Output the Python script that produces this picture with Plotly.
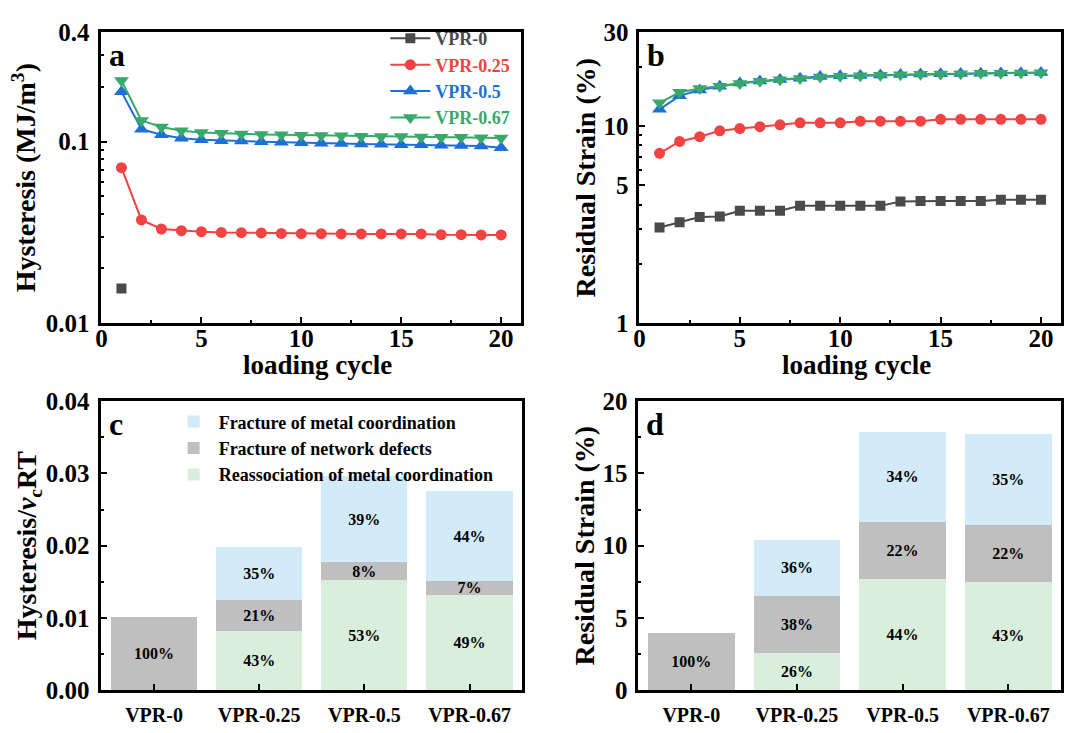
import plotly.graph_objects as go
from plotly.subplots import make_subplots

# ---------------- data ----------------
cycles = list(range(1, 21))
names = ["VPR-0", "VPR-0.25", "VPR-0.5", "VPR-0.67"]

hyst_cycles_vpr0 = [1]
hyst_vpr0 = [0.0155]
hyst_vpr025 = [0.0718, 0.0370, 0.0330, 0.0323, 0.0319, 0.0316, 0.0315, 0.0314, 0.0312, 0.0311,
               0.0311, 0.0310, 0.0310, 0.0310, 0.0310, 0.0310, 0.0307, 0.0307, 0.0306, 0.0306]
hyst_vpr05 = [0.188, 0.117, 0.109, 0.1043, 0.1022, 0.1010, 0.1006, 0.0998, 0.0990, 0.0985,
              0.0980, 0.0975, 0.0970, 0.0967, 0.0962, 0.0960, 0.0955, 0.0950, 0.0945, 0.0925]
hyst_vpr067 = [0.217, 0.1306, 0.1204, 0.1147, 0.1123, 0.1110, 0.1100, 0.1095, 0.1090, 0.1085,
               0.1080, 0.1075, 0.1070, 0.1068, 0.1065, 0.1060, 0.1058, 0.1055, 0.1050, 0.1045]

res_vpr0 = [3.06, 3.25, 3.46, 3.48, 3.72, 3.72, 3.72, 3.94, 3.94, 3.94,
            3.94, 3.94, 4.15, 4.17, 4.17, 4.17, 4.17, 4.23, 4.23, 4.23]
res_vpr025 = [7.28, 8.37, 8.85, 9.48, 9.73, 9.95, 10.17, 10.40, 10.40, 10.40,
              10.60, 10.60, 10.60, 10.60, 10.84, 10.84, 10.84, 10.84, 10.84, 10.84]
res_vpr05 = [12.18, 14.27, 15.26, 15.96, 16.57, 16.95, 17.28, 17.53, 17.87, 18.02,
             18.10, 18.20, 18.30, 18.40, 18.45, 18.50, 18.60, 18.65, 18.70, 18.75]
res_vpr067 = [13.14, 14.87, 15.55, 15.96, 16.50, 16.90, 17.20, 17.45, 17.80, 17.95,
              18.05, 18.15, 18.25, 18.35, 18.40, 18.45, 18.55, 18.60, 18.65, 18.70]

categories = ["VPR-0", "VPR-0.25", "VPR-0.5", "VPR-0.67"]
comp_names = ["Reassociation of metal coordination", "Fracture of network defects",
              "Fracture of metal coordination"]

c_reassoc = [None, 0.0082, 0.0152, 0.0132]
c_defects = [0.0101, 0.0043, 0.0025, 0.0019]
c_metal = [None, 0.0073, 0.0119, 0.0124]
c_reassoc_pct = [None, "43%", "53%", "49%"]
c_defects_pct = ["100%", "21%", "8%", "7%"]
c_metal_pct = [None, "35%", "39%", "44%"]

d_reassoc = [None, 2.55, 7.71, 7.51]
d_defects = [3.93, 3.96, 3.93, 3.91]
d_metal = [None, 3.91, 6.23, 6.33]
d_reassoc_pct = [None, "26%", "44%", "43%"]
d_defects_pct = ["100%", "38%", "22%", "22%"]
d_metal_pct = [None, "36%", "34%", "35%"]

# ---------------- styles ----------------
FONT = "Liberation Serif, Times New Roman, Times, serif"
line_colors = ["#4a4a4a", "#f04343", "#1f6fdb", "#38a96a"]
symbols = ["square", "circle", "triangle-up", "triangle-down"]
msizes = [10, 11, 13, 13]
bar_colors = ["#daefdb", "#bfbfbf", "#d3eaf8"]

fig = make_subplots(rows=2, cols=2)

# panel a
hyst_x = [hyst_cycles_vpr0, cycles, cycles, cycles]
hyst_y = [hyst_vpr0, hyst_vpr025, hyst_vpr05, hyst_vpr067]
for i in range(4):
    fig.add_trace(go.Scatter(
        x=hyst_x[i], y=hyst_y[i], mode="lines+markers",
        name=f"<span style='color:{line_colors[i]}'>{names[i]}</span>",
        line=dict(color=line_colors[i], width=2),
        marker=dict(symbol=symbols[i], size=msizes[i], color=line_colors[i]),
        legend="legend"), row=1, col=1)

# panel b
res_y = [res_vpr0, res_vpr025, res_vpr05, res_vpr067]
for i in range(4):
    fig.add_trace(go.Scatter(
        x=cycles, y=res_y[i], mode="lines+markers", showlegend=False,
        line=dict(color=line_colors[i], width=2),
        marker=dict(symbol=symbols[i], size=msizes[i], color=line_colors[i])), row=1, col=2)

bar_textfont = dict(family=FONT, size=16, color="black", weight="bold")

# panel c
c_vals = [c_reassoc, c_defects, c_metal]
c_txt = [c_reassoc_pct, c_defects_pct, c_metal_pct]
for j in range(3):
    fig.add_trace(go.Bar(
        x=categories, y=c_vals[j], name=comp_names[j], text=c_txt[j],
        textposition="inside", insidetextanchor="middle", textfont=bar_textfont,
        marker=dict(color=bar_colors[j], line=dict(width=0)),
        legend="legend2"), row=2, col=1)

# panel d
d_vals = [d_reassoc, d_defects, d_metal]
d_txt = [d_reassoc_pct, d_defects_pct, d_metal_pct]
for j in range(3):
    fig.add_trace(go.Bar(
        x=categories, y=d_vals[j], name=comp_names[j], text=d_txt[j], showlegend=False,
        textposition="inside", insidetextanchor="middle", textfont=bar_textfont,
        marker=dict(color=bar_colors[j], line=dict(width=0))), row=2, col=2)

W, H = 1076, 733
def xd(a, b):
    return [a / W, b / W]
def yd(top, bottom):
    return [1 - bottom / H, 1 - top / H]

axis_common = dict(showline=True, linewidth=3, linecolor="black", mirror=True,
                   ticks="inside", ticklen=6, tickwidth=2, tickcolor="black",
                   showgrid=False, zeroline=False,
                   tickfont=dict(family=FONT, size=25, color="black", weight="bold"))
title_font = dict(family=FONT, size=28, color="black", weight="bold")
cat_tickfont = dict(family=FONT, size=20, color="black", weight="bold")
minor_common = dict(ticks="inside", ticklen=3, tickwidth=2, tickcolor="black")

fig.update_layout(
    width=W, height=H, margin=dict(l=0, r=0, t=0, b=0),
    paper_bgcolor="white", plot_bgcolor="white",
    font=dict(family=FONT, color="black", weight="bold"),
    barmode="stack", bargap=0.18,
    uniformtext=dict(minsize=16, mode="show"),
    legend=dict(x=0.476, y=0.99, xanchor="right", yanchor="top", traceorder="normal",
                font=dict(family=FONT, size=18, weight="bold"),
                bgcolor="rgba(0,0,0,0)", tracegroupgap=0, itemwidth=40),
    legend2=dict(x=0.152, y=0.447, xanchor="left", yanchor="top", traceorder="reversed",
                 font=dict(family=FONT, size=18, weight="bold", color="black"),
                 bgcolor="rgba(0,0,0,0)", itemwidth=40),
    xaxis=dict(domain=xd(96, 518), range=[0, 21], tickvals=[0, 5, 10, 15, 20],
               ticklabelstandoff=-9,
               minor=dict(tickvals=[2.5, 7.5, 12.5, 17.5], **minor_common), **axis_common),
    yaxis=dict(domain=yd(20, 322), type="log", range=[-2, -0.39794],
               tickvals=[0.01, 0.1, 0.4], ticktext=["0.01", "0.1", "0.4"], ticklabelstandoff=4,
               minor=dict(tickvals=[0.02, 0.03, 0.04, 0.05, 0.06, 0.07, 0.08, 0.09, 0.2, 0.3],
                          **minor_common),
               title=dict(text="Hysteresis (MJ/m<sup>3</sup>)", font=title_font, standoff=2),
               **axis_common),
    xaxis2=dict(domain=xd(637, 1061), range=[0, 21], tickvals=[0, 5, 10, 15, 20],
                ticklabelstandoff=-9,
                minor=dict(tickvals=[2.5, 7.5, 12.5, 17.5], **minor_common), **axis_common),
    yaxis2=dict(domain=yd(20, 322), type="log", range=[0, 1.47712],
                tickvals=[1, 5, 10, 30], ticktext=["1", "5", "10", "30"], ticklabelstandoff=3,
                minor=dict(tickvals=[2, 3, 4, 6, 7, 8, 9, 20], **minor_common),
                title=dict(text="Residual Strain (%)", font=title_font, standoff=0),
                **axis_common),
    xaxis3=dict(domain=xd(96, 519), range=[-0.5, 3.5], ticklabelstandoff=5,
                **{**axis_common, "tickfont": cat_tickfont}),
    yaxis3=dict(domain=yd(403, 703), range=[0, 0.04], dtick=0.01, tickformat=".2f",
                ticklabelstandoff=4,
                minor=dict(dtick=0.005, **minor_common),
                title=dict(text="Hysteresis/<i>v</i><sub>c</sub>RT", font=title_font, standoff=0),
                **axis_common),
    xaxis4=dict(domain=xd(636, 1061), range=[-0.5, 3.5], ticklabelstandoff=5,
                **{**axis_common, "tickfont": cat_tickfont}),
    yaxis4=dict(domain=yd(403, 703), range=[0, 20], dtick=5, ticklabelstandoff=3,
                minor=dict(dtick=2.5, **minor_common),
                title=dict(text="Residual Strain (%)", font=title_font, standoff=0),
                **axis_common),
)

# x-axis titles of the line panels
for ax in ["x", "x2"]:
    yref = ax.replace("x", "y")
    fig.add_annotation(text="loading cycle", xref=f"{ax} domain", yref=f"{yref} domain",
                       x=0.515, y=-0.145, xanchor="center", yanchor="middle", showarrow=False,
                       font=dict(family=FONT, size=27, color="black", weight="bold"))

# panel letters
for lbl, ax in zip(["a", "b", "c", "d"], ["x", "x2", "x3", "x4"]):
    yref = ax.replace("x", "y")
    fig.add_annotation(text=lbl, xref=f"{ax} domain", yref=f"{yref} domain",
                       x=0.012, y=0.99, xanchor="left", yanchor="top", showarrow=False,
                       font=dict(family=FONT, size=32, color="black", weight="bold"))

fig.write_html("out.html")
